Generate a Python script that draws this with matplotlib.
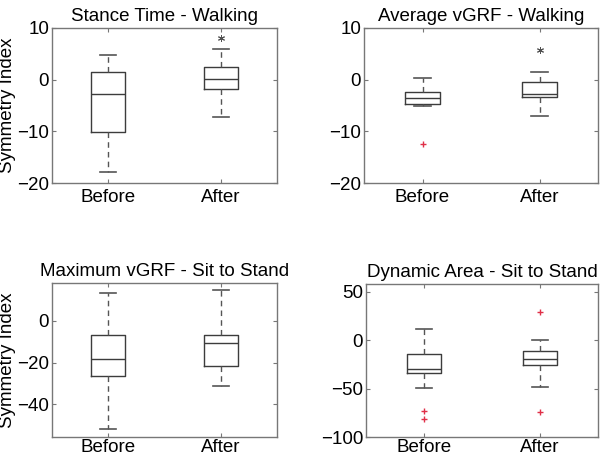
import matplotlib
matplotlib.use("Agg")
import matplotlib.pyplot as plt

plt.rcParams['font.family'] = ['Liberation Sans', 'DejaVu Sans']

groups = ["Before", "After"]
titles = ["Stance Time - Walking", "Average vGRF - Walking",
          "Maximum vGRF - Sit to Stand", "Dynamic Area - Sit to Stand"]

# per panel: [Before, After]
whishi = [[4.8, 6.0], [0.3, 1.4], [13.6, 14.9], [11.5, 0.0]]
q3 = [[1.5, 2.4], [-2.4, -0.4], [-6.8, -6.8], [-14.3, -10.8]]
med = [[-2.8, 0.1], [-3.6, -2.8], [-18.4, -10.8], [-29.7, -19.6]]
q1 = [[-10.1, -1.8], [-4.8, -3.4], [-26.3, -21.6], [-33.9, -25.5]]
whislo = [[-17.9, -7.2], [-5.0, -7.1], [-52.0, -31.3], [-49.3, -48.3]]
fliers = [[[], []], [[-12.5], []], [[], []], [[-73.4, -81.8], [28.7, -74.1]]]
stars = [[None, 8.1], [None, 5.8], [None, None], [None, None]]

ylims = [(-20, 10), (-20, 10), (-55.7, 18.2), (-100, 58)]
yticks = [[-20, -10, 0, 10], [-20, -10, 0, 10], [-40, -20, 0], [-100, -50, 0, 50]]

# axes boxes in pixels: left, top, right, bottom
boxes = [(52, 28, 277, 183), (364, 28, 598, 183),
         (52, 283, 277, 437), (366, 284, 598, 437)]

W, H = 600, 457
fig = plt.figure(figsize=(6, 4.57), dpi=100)

fs = 13.5
edge = '#3c3c3c'
for i in range(4):
    l, t, r, b = boxes[i]
    ax = fig.add_axes([l / W, 1 - b / H, (r - l) / W, (b - t) / H])
    stats = []
    for j in range(2):
        stats.append(dict(med=med[i][j], q1=q1[i][j], q3=q3[i][j],
                          whislo=whislo[i][j], whishi=whishi[i][j],
                          fliers=fliers[i][j], label=groups[j]))
    ax.bxp(stats, positions=[1, 2], widths=0.3, capwidths=0.14,
           boxprops=dict(color=edge, linewidth=1.0),
           medianprops=dict(color=edge, linewidth=1.0),
           whiskerprops=dict(color='#555555', linewidth=1.0, linestyle=(0, (4, 3))),
           capprops=dict(color='#555555', linewidth=1.2),
           flierprops=dict(marker='+', markeredgecolor='#e03048', markersize=5,
                           markeredgewidth=1.0, linestyle='none'))
    for j in range(2):
        if stars[i][j] is not None:
            ax.plot([j + 1], [stars[i][j]], marker=(6, 2, 0), color='#505050',
                    markersize=5, markeredgewidth=0.7, linestyle='none')
    ax.set_xlim(0.5, 2.5)
    ax.set_ylim(*ylims[i])
    ax.set_yticks(yticks[i])
    ax.set_xticks([1, 2])
    ax.set_xticklabels(groups)
    ax.set_title(titles[i], fontsize=fs, pad=5)
    ax.tick_params(direction='in', length=3, top=True, right=True,
                   labelsize=fs, color='#777777', pad=2)
    ax.tick_params(axis='x', pad=4 if i < 2 else 1.5)
    for s in ax.spines.values():
        s.set_color('#777777')
        s.set_linewidth(1.0)
    if i % 2 == 0:
        ax.set_ylabel("Symmetry Index", fontsize=fs, labelpad=1)

fig.savefig("out.png", dpi=100)
